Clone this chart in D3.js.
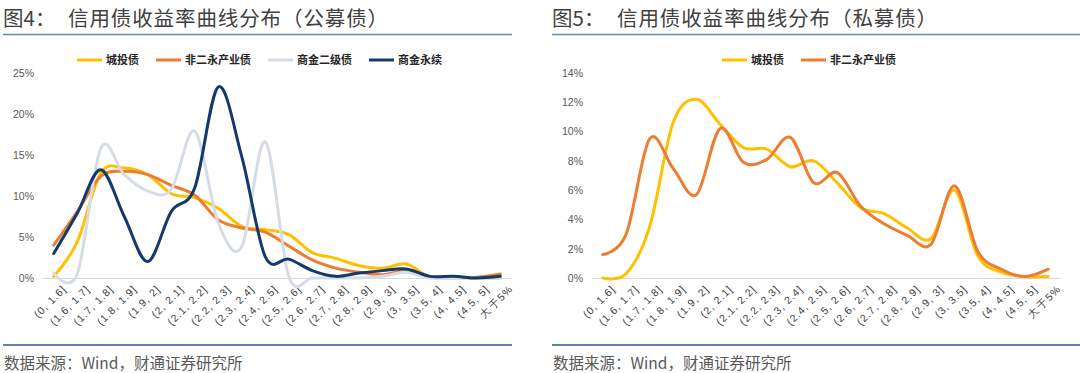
<!DOCTYPE html>
<html><head><meta charset="utf-8">
<script src="https://cdn.jsdelivr.net/npm/d3@7/dist/d3.min.js"></script>
<style>body{margin:0;background:#fff}svg{display:block}</style>
</head><body>
<svg id="c" width="1080" height="373"></svg>
<script>
const categories = ["(0,1.6]","(1.6,1.7]","(1.7,1.8]","(1.8,1.9]","(1.9,2]","(2,2.1]","(2.1,2.2]","(2.2,2.3]","(2.3,2.4]","(2.4,2.5]","(2.5,2.6]","(2.6,2.7]","(2.7,2.8]","(2.8,2.9]","(2.9,3]","(3,3.5]","(3.5,4]","(4,4.5]","(4.5,5]","大于5%"];

// 图4 公募债 (%)
const pubChengtou = [0.2,4.4,12.8,13.4,12.6,10.3,9.8,8.5,6.3,5.9,5.3,3.1,2.4,1.5,1.2,1.7,0.1,0,0,0];
const pubIndustry = [4.0,8.1,12.4,13.0,12.6,11.3,10.1,7.1,6.1,5.6,3.9,2.2,1.2,0.7,0.4,0.9,0.1,0.1,0.1,0.5];
const pubBankTier2 = [0.6,0.5,15.8,12.6,10.6,10.8,17.9,6.7,3.8,16.6,0.2,0,0,0,0.2,0.7,0,0,0,0];
const pubBankPerp = [3.0,7.9,13.2,7.5,2.0,8.1,11.0,23.3,14.8,2.6,2.3,0.9,0.2,0.6,0.9,1.1,0.2,0.2,0.0,0.2];

// 图5 私募债 (%)
const priChengtou = [0,0.3,3.5,10.6,12.2,10.5,8.9,8.8,7.6,8.0,6.5,4.8,4.4,3.4,2.7,6.0,1.5,0.4,0.1,0.1];
const priIndustry = [1.6,3.0,9.5,7.5,5.7,10.2,7.9,8.1,9.6,6.5,7.2,4.9,3.7,2.9,2.3,6.3,1.8,0.6,0.1,0.6];

const pubTicks = [0,5,10,15,20,25];
const priTicks = [0,2,4,6,8,10,12,14];

const colors = {"城投债":"#FFC000","非二永产业债":"#ED7D31","商金二级债":"#D6DCE5","商金永续":"#123A6E"};

const svg = d3.select("#c");
const CJK = "'Noto Sans CJK SC','Noto Sans',sans-serif";

function panel(o){
  const g = svg.append("g");
  const tg = g.append("text").attr("y",26).attr("font-family",CJK)
    .attr("font-size",20.5).attr("fill","#404040");
  tg.append("tspan").attr("x",o.x0).text(o.titleNo);
  tg.append("tspan").attr("x",o.x0+o.titleGap).style("letter-spacing","0.9px").text(o.title);
  g.append("line").attr("x1",o.x0).attr("x2",o.x1).attr("y1",34.5).attr("y2",34.5)
    .attr("stroke","#5B8BC9").attr("stroke-width",1.5);
  g.append("line").attr("x1",o.x0).attr("x2",o.x1).attr("y1",345).attr("y2",345)
    .attr("stroke","#2F5597").attr("stroke-width",1.5);
  g.append("text").attr("x",o.x0+1).attr("y",369).attr("font-family",CJK)
    .attr("font-size",15.5).attr("fill","#595959").text("数据来源：Wind，财通证券研究所");

  const x = d3.scaleBand().domain(categories).range([o.px0,o.px1]);
  const y = d3.scaleLinear().domain([0,o.ymax]).range([278,73]);

  const ya = g.append("g").attr("transform",`translate(${o.ylab},0)`)
    .call(d3.axisLeft(y).tickValues(o.ticks).tickSize(0).tickFormat(d=>d+"%"));
  ya.select(".domain").remove();
  ya.selectAll("text").attr("font-family","'Liberation Sans',Arial,sans-serif").attr("font-size",10.5).attr("fill","#595959").attr("x",0);

  const xa = g.append("g").attr("transform","translate(0,278)")
    .call(d3.axisBottom(x).tickSize(0));
  xa.select(".domain").attr("stroke","#D9D9D9").attr("stroke-width",1.2);
  xa.selectAll("text").attr("font-family","'Liberation Sans',Arial,sans-serif").attr("font-size",10.5)
    .attr("fill","#404040").attr("text-anchor","end")
    .attr("transform",function(d){return `translate(${x.bandwidth()/2-1},9) rotate(-45)`})
    .attr("x",0).attr("y",0).attr("dy","0.35em")
    .style("letter-spacing","1px")
    .text(d=>d.replace(",",", "));

  const line = d3.line().x((d,i)=>x(categories[i])+x.bandwidth()/2).y(d=>y(d))
    .curve(d3.curveCatmullRom.alpha(0));
  o.series.forEach(s=>{
    g.append("path").datum(s.values).attr("d",line).attr("fill","none")
      .attr("stroke",colors[s.name]).attr("stroke-width",3).attr("stroke-linejoin","round").attr("stroke-linecap","round");
  });

  let lx = o.legendX;
  o.series.forEach(s=>{
    g.append("line").attr("x1",lx).attr("x2",lx+25).attr("y1",60).attr("y2",60)
      .attr("stroke",colors[s.name]).attr("stroke-width",3);
    const t = g.append("text").attr("x",lx+29).attr("y",64).attr("font-family",CJK)
      .attr("font-weight",700).attr("font-size",11).attr("fill","#262626").text(s.name);
    lx += 29 + t.node().getComputedTextLength() + 17;
  });
}

panel({x0:3,x1:512,titleNo:"图4：",title:"信用债收益率曲线分布（公募债）",titleGap:65,px0:42,px1:512,ymax:25,ticks:pubTicks,ylab:34,legendX:77,
  series:[{name:"城投债",values:pubChengtou},{name:"非二永产业债",values:pubIndustry},{name:"商金二级债",values:pubBankTier2},{name:"商金永续",values:pubBankPerp}]});
panel({x0:552,x1:1080,titleNo:"图5：",title:"信用债收益率曲线分布（私募债）",titleGap:65,px0:591,px1:1060,ymax:14,ticks:priTicks,ylab:583,legendX:722,
  series:[{name:"城投债",values:priChengtou},{name:"非二永产业债",values:priIndustry}]});
</script>
</body></html>
